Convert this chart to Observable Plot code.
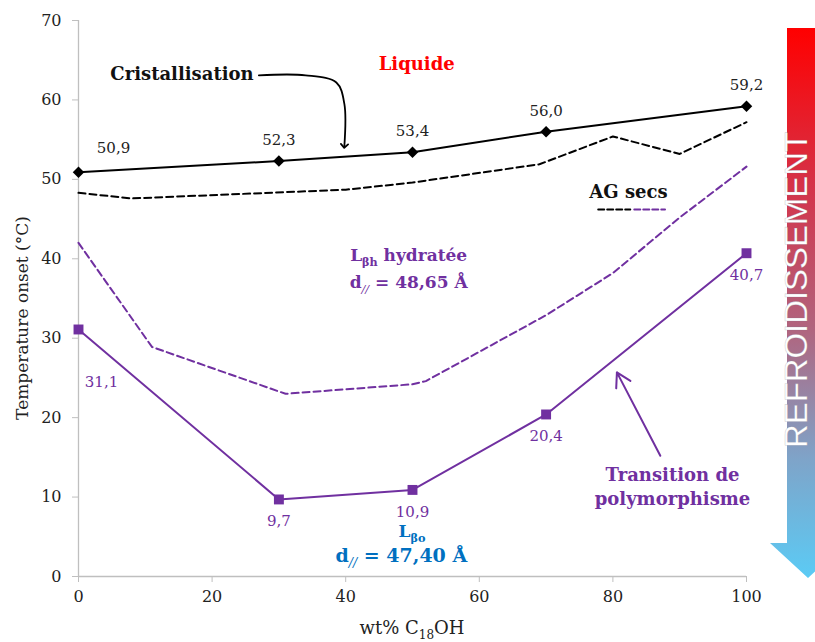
<!DOCTYPE html>
<html><head><meta charset="utf-8">
<script src="https://cdn.jsdelivr.net/npm/d3@7"></script>
<script src="https://cdn.jsdelivr.net/npm/@observablehq/plot@0.6"></script>
<style>
body{margin:0;background:#fff;}
#chart{position:relative;width:815px;height:642px;}
</style>
</head><body><div id="chart"></div>
<script>
// ---- data ----
const compositions = [0, 30, 50, 70, 100];            // wt% C18OH
const cristallisation = [50.9, 52.3, 53.4, 56.0, 59.2]; // °C
const polymorphisme = [31.1, 9.7, 10.9, 20.4, 40.7];    // °C
const agSecsLiqX = [0, 8, 40, 50, 69, 80, 90, 100];
const agSecsLiqY = [48.3, 47.6, 48.7, 49.6, 51.9, 55.4, 53.2, 57.2];
const agSecsPolyX = [0, 11, 31, 50, 52, 70, 80, 90, 100];
const agSecsPolyY = [42.0, 28.9, 23.0, 24.2, 24.6, 32.9, 38.2, 45.2, 51.6];
const xTicks = [0, 20, 40, 60, 80, 100];
const yTicks = [0, 10, 20, 30, 40, 50, 60, 70];

const PURPLE = "#7030A0", BLUE = "#0070C0", RED = "#FF0000";
const fmt = v => v.toFixed(1).replace(".", ",");

const crit = compositions.map((x, i) => ({x, y: cristallisation[i]}));
const poly = compositions.map((x, i) => ({x, y: polymorphisme[i]}));
const agLiq = agSecsLiqX.map((x, i) => ({x, y: agSecsLiqY[i]}));
const agPoly = agSecsPolyX.map((x, i) => ({x, y: agSecsPolyY[i]}));

// annotation anchors (data units)
const critArrow = [{x: 27.0, y: 63.1}, {x: 34, y: 63.1}, {x: 38.6, y: 62.2}, {x: 39.8, y: 59.5}, {x: 39.8, y: 54.2}];
const transArrow = [{x1: 87.1, y1: 15.2, x2: 80.6, y2: 25.7}];
const legendBlack = [{x: 77.8, y: 46.2}, {x: 82.6, y: 46.2}];
const legendPurple = [{x: 83.2, y: 46.2}, {x: 87.8, y: 46.2}];

const plot = Plot.plot({
  width: 815, height: 642,
  marginLeft: 78, marginRight: 69, marginTop: 20, marginBottom: 66,
  x: {domain: [0, 100]},
  y: {domain: [0, 70]},
  style: {fontFamily: "DejaVu Serif", fontSize: "16px", color: "#222", background: "white", overflow: "visible"},
  marks: [
    Plot.ruleY([0], {stroke: "#bfbfbf", strokeWidth: 1.3}),
    Plot.ruleX([0], {stroke: "#bfbfbf", strokeWidth: 1.3}),
    Plot.axisY({ticks: yTicks, tickSize: 6, tickPadding: 11, stroke: "#bfbfbf", color: "#222", label: null, tickFormat: d => d}),
    Plot.axisX({ticks: xTicks, tickSize: 6, tickPadding: 8, stroke: "#bfbfbf", color: "#222", label: null, tickFormat: d => d}),
    // AG secs dashed
    Plot.line(agLiq, {x: "x", y: "y", stroke: "black", strokeWidth: 2, strokeDasharray: "7,4"}),
    Plot.line(agPoly, {x: "x", y: "y", stroke: PURPLE, strokeWidth: 2, strokeDasharray: "7,4"}),
    Plot.line(legendBlack, {x: "x", y: "y", stroke: "black", strokeWidth: 2, strokeDasharray: "6,3"}),
    Plot.line(legendPurple, {x: "x", y: "y", stroke: PURPLE, strokeWidth: 2, strokeDasharray: "6,3"}),
    // main series
    Plot.line(crit, {x: "x", y: "y", stroke: "black", strokeWidth: 2}),
    Plot.dot(crit, {x: "x", y: "y", symbol: "diamond2", fill: "black", r: 5.2}),
    Plot.line(poly, {x: "x", y: "y", stroke: PURPLE, strokeWidth: 2}),
    Plot.dot(poly, {x: "x", y: "y", symbol: "square", fill: PURPLE, r: 5.6}),
    // value labels
    Plot.text(crit.slice(0, 1), {x: "x", y: "y", text: d => fmt(d.y), dx: 35, dy: -24, fontSize: 15, fill: "#222"}),
    Plot.text(crit.slice(1), {x: "x", y: "y", text: d => fmt(d.y), dy: -21, fontSize: 15, fill: "#222"}),
    Plot.text(poly.slice(0, 1), {x: "x", y: "y", text: d => fmt(d.y), dx: 23, dy: 53, fontSize: 15, fill: PURPLE}),
    Plot.text(poly.slice(1), {x: "x", y: "y", text: d => fmt(d.y), dy: 22, fontSize: 15, fill: PURPLE}),
    // arrows
    Plot.line(critArrow, {x: "x", y: "y", stroke: "black", strokeWidth: 1.8, curve: "catmull-rom", markerEnd: "arrow"}),
    Plot.arrow(transArrow, {x1: "x1", y1: "y1", x2: "x2", y2: "y2", stroke: PURPLE, strokeWidth: 2, headLength: 12})
  ]
});
document.getElementById("chart").appendChild(plot);

const sx = plot.scale("x"), sy = plot.scale("y");
const svg = d3.select(plot);

function addText(xv, yv, parts, opts) {
  const size = opts.size || 18;
  const t = svg.append("text")
    .attr("x", sx.apply(xv)).attr("y", sy.apply(yv))
    .attr("text-anchor", opts.anchor || "middle")
    .attr("font-family", "DejaVu Serif")
    .attr("font-weight", opts.weight || "bold")
    .attr("font-size", size)
    .attr("fill", opts.fill || "#111");
  let shift = 0;
  for (const p of parts) {
    const s = typeof p === "string" ? {t: p} : p;
    const ts = t.append("tspan").text(s.t);
    const target = s.sub ? 5 : 0;
    if (target !== shift) { ts.attr("dy", target - shift); shift = target; }
    if (s.sub) ts.attr("font-size", size * 0.66);
    if (s.italic) ts.attr("font-style", "italic").attr("font-weight", "normal");
  }
  return t;
}

addText(26.3, 62.4, ["Cristallisation"], {anchor: "end"});
addText(50.7, 63.7, ["Liquide"], {fill: RED});
addText(82.4, 47.6, ["AG secs"], {});
addText(49.5, 39.6, ["L", {t: "βh", sub: true}, " hydratée"], {fill: PURPLE, size: 17});
addText(49.5, 36.2, ["d", {t: "//", sub: true, italic: true}, " = 48,65 Å"], {fill: PURPLE, size: 17});
addText(50.0, 4.9, ["L", {t: "βo", sub: true}], {fill: BLUE, size: 17});
addText(48.4, 1.8, ["d", {t: "//", sub: true, italic: true}, " = 47,40 Å"], {fill: BLUE, size: 19});
addText(89.0, 12.0, ["Transition de"], {fill: PURPLE});
addText(89.0, 8.9, ["polymorphisme"], {fill: PURPLE});

// axis titles
svg.append("text")
  .attr("transform", `translate(28, ${(sy.apply(0) + sy.apply(70)) / 2 + 20}) rotate(-90)`)
  .attr("text-anchor", "middle").attr("font-family", "DejaVu Serif").attr("font-size", 17).attr("fill", "#222")
  .text("Temperature onset (°C)");
const xl = svg.append("text")
  .attr("x", (sx.apply(0) + sx.apply(100)) / 2).attr("y", 634)
  .attr("text-anchor", "middle").attr("font-family", "DejaVu Serif").attr("font-size", 18).attr("fill", "#222");
xl.append("tspan").text("wt% C");
xl.append("tspan").text("18").attr("font-size", 12).attr("dy", 5);
xl.append("tspan").text("OH").attr("dy", -5);

// cooling arrow (decoration)
const defs = svg.append("defs");
const g = defs.append("linearGradient").attr("id", "coolGrad").attr("x1", 0).attr("y1", 0).attr("x2", 0).attr("y2", 1);
[[0, "#FF0000"], [0.3, "#D3354C"], [0.55, "#B0657F"], [0.78, "#7FA3C8"], [1, "#5BCBF5"]]
  .forEach(([o, c]) => g.append("stop").attr("offset", o).attr("stop-color", c));
svg.append("path")
  .attr("d", "M787,28 L830,28 L830,543 L846,543 L808,578 L770,543 L787,543 Z")
  .attr("fill", "url(#coolGrad)");
svg.append("text")
  .attr("transform", "translate(807, 290) rotate(-90)")
  .attr("text-anchor", "middle")
  .attr("font-family", "Liberation Sans").attr("font-size", 32)
  .attr("textLength", 316).attr("lengthAdjust", "spacingAndGlyphs")
  .attr("fill", "white").attr("stroke", "rgba(120,120,140,0.35)").attr("stroke-width", 0.6)
  .text("REFROIDISSEMENT");
</script>
</body></html>
